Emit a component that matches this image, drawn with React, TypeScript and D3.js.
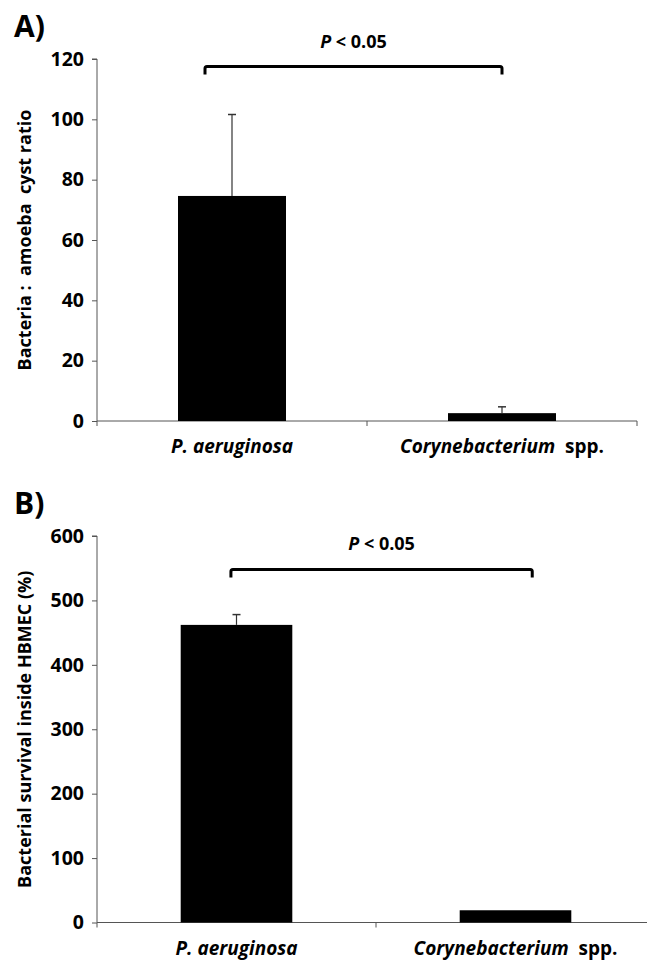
import React, { useEffect, useRef } from 'react';
import * as d3 from 'd3';

const categories = ['P. aeruginosa', 'Corynebacterium spp.'];
const ratioMeans = [74.6, 2.6];
const ratioErrors = [27, 2.1];
const ratioTicks = [0, 20, 40, 60, 80, 100, 120];
const survivalMeans = [462, 19];
const survivalErrors = [16, 0];
const survivalTicks = [0, 100, 200, 300, 400, 500, 600];

const FONT = '"Open Sans", Lato, sans-serif';

type Panel = {
  label: string;
  title: string;
  means: number[];
  errors: number[];
  ticks: number[];
  top: number;
  bottom: number;
  right: number;
  bracketY: number;
  bracketX: [number, number];
};

const panels: Panel[] = [
  {
    label: 'A)', title: 'Bacteria :  amoeba  cyst ratio',
    means: ratioMeans, errors: ratioErrors, ticks: ratioTicks,
    top: 59, bottom: 421, right: 637, bracketY: 117.5, bracketX: [0.2, 0.75]
  },
  {
    label: 'B)', title: 'Bacterial survival inside HBMEC (%)',
    means: survivalMeans, errors: survivalErrors, ticks: survivalTicks,
    top: 536, bottom: 922.5, right: 655, bracketY: 548, bracketX: [0.24, 0.78]
  }
];

const App = () => {
  const ref = useRef<SVGSVGElement>(null);

  useEffect(() => {
    const svg = d3.select(ref.current);
    svg.selectAll('*').remove();
    const left = 97;

    panels.forEach(p => {
      const y = d3.scaleLinear()
        .domain([0, d3.max(p.ticks) as number])
        .range([p.bottom, p.top]);
      const x = d3.scaleBand()
        .domain(categories)
        .range([left, p.right])
        .paddingInner(0.6)
        .paddingOuter(0.3);
      const g = svg.append('g');

      // y axis
      const yAxis = g.append('g')
        .attr('transform', `translate(${left},0)`)
        .call(d3.axisLeft(y).tickValues(p.ticks).tickSize(5).tickPadding(8));
      yAxis.select('.domain').attr('stroke', '#555').attr('d', `M-5,${p.top}H0V${p.bottom}`);
      yAxis.selectAll('.tick line').attr('stroke', '#555');
      yAxis.selectAll('.tick text')
        .style('font-family', FONT)
        .style('font-size', '19.5px')
        .style('font-weight', 'bold')
        .attr('fill', '#000');

      // x axis
      const step = (p.right - left) / categories.length;
      g.append('line')
        .attr('x1', left).attr('x2', p.right)
        .attr('y1', p.bottom).attr('y2', p.bottom)
        .attr('stroke', '#555');
      d3.range(categories.length + 1).forEach(i => {
        g.append('line')
          .attr('x1', left + i * step).attr('x2', left + i * step)
          .attr('y1', p.bottom).attr('y2', p.bottom + 5)
          .attr('stroke', '#555');
      });

      // bars
      g.selectAll('rect.bar')
        .data(p.means)
        .enter()
        .append('rect')
        .attr('x', (d, i) => x(categories[i]) as number)
        .attr('y', d => y(d))
        .attr('width', x.bandwidth())
        .attr('height', d => p.bottom - y(d))
        .attr('fill', '#000');

      // error bars (upper only)
      p.means.forEach((m, i) => {
        if (!p.errors[i]) return;
        const cx = (x(categories[i]) as number) + x.bandwidth() / 2;
        g.append('line')
          .attr('x1', cx).attr('x2', cx)
          .attr('y1', y(m)).attr('y2', y(m + p.errors[i]))
          .attr('stroke', '#333').attr('stroke-width', 1.2);
        g.append('line')
          .attr('x1', cx - 4).attr('x2', cx + 4)
          .attr('y1', y(m + p.errors[i])).attr('y2', y(m + p.errors[i]))
          .attr('stroke', '#333').attr('stroke-width', 1.5);
      });

      // category labels
      categories.forEach((c, i) => {
        const cx = (x(c) as number) + x.bandwidth() / 2;
        const t = g.append('text')
          .attr('x', cx)
          .attr('y', p.bottom + 32)
          .attr('text-anchor', 'middle')
          .style('font-family', FONT)
          .style('font-size', '19px')
          .style('font-weight', 'bold');
        const parts = c.split(' ');
        if (parts[1] === 'spp.') {
          t.append('tspan').style('font-style', 'italic').text(parts[0]);
          t.append('tspan').text('\u00a0 spp.');
        } else {
          t.style('font-style', 'italic').text(c);
        }
      });

      // y title
      g.append('text')
        .attr('transform', `translate(31,${(p.top + p.bottom) / 2}) rotate(-90)`)
        .attr('text-anchor', 'middle')
        .style('font-family', FONT)
        .style('font-size', '18px')
        .style('font-weight', 'bold')
        .style('white-space', 'pre')
        .text(p.title);

      // panel label
      g.append('text')
        .attr('x', 14)
        .attr('y', p.top - 22)
        .style('font-family', FONT)
        .style('font-size', '30px')
        .style('font-weight', 'bold')
        .text(p.label);

      // significance bracket
      const bx1 = left + p.bracketX[0] * (p.right - left);
      const bx2 = left + p.bracketX[1] * (p.right - left);
      const by = y(p.bracketY);
      const path = d3.path();
      path.moveTo(bx1, by + 8);
      path.lineTo(bx1, by + 2);
      path.quadraticCurveTo(bx1, by, bx1 + 2, by);
      path.lineTo(bx2 - 2, by);
      path.quadraticCurveTo(bx2, by, bx2, by + 2);
      path.lineTo(bx2, by + 8);
      g.append('path')
        .attr('d', path.toString())
        .attr('fill', 'none')
        .attr('stroke', '#000')
        .attr('stroke-width', 3);

      const pt = g.append('text')
        .attr('x', (bx1 + bx2) / 2)
        .attr('y', by - 19)
        .attr('text-anchor', 'middle')
        .style('font-family', FONT)
        .style('font-size', '18px')
        .style('font-weight', 'bold');
      pt.append('tspan').style('font-style', 'italic').text('P');
      pt.append('tspan').text(' < 0.05');
    });
  }, []);

  return (
    <svg ref={ref} width={647} height={960}
      style={{ position: 'absolute', left: 0, top: 0, background: '#fff' }} />
  );
};

export default App;
